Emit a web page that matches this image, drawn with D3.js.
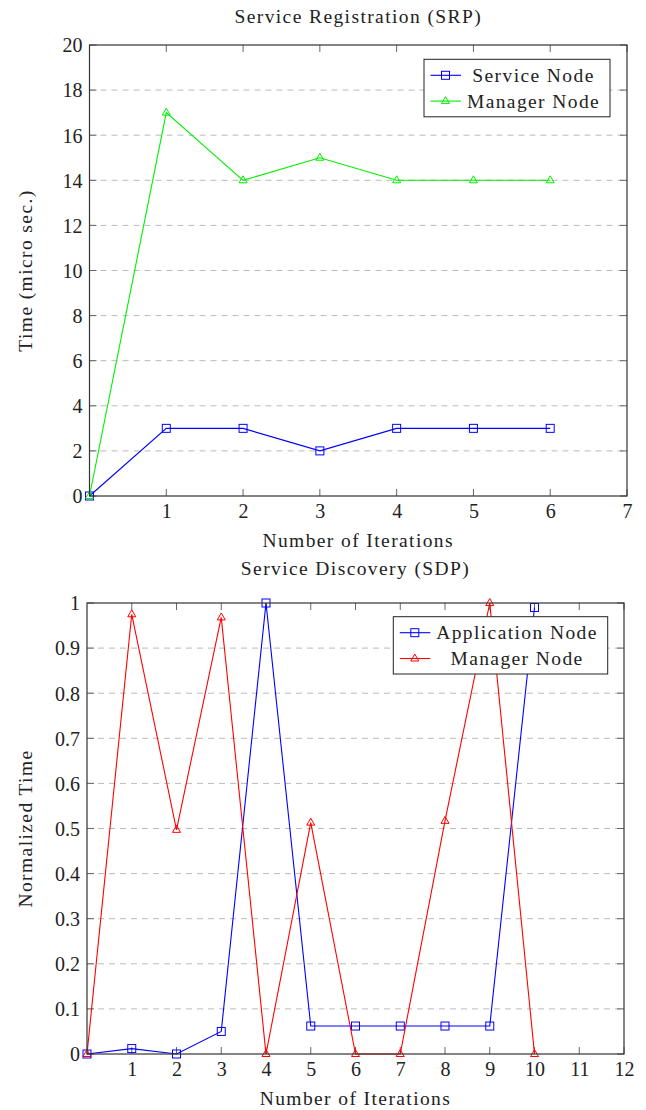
<!DOCTYPE html>
<html>
  <head>
    <script src="https://d3js.org/d3.v7.min.js" charset="utf-8"></script>
    <meta charset="UTF-8">
    <title>service registration / discovery</title>
    <style>
      body { margin: 0; background: #fff; }
      text { font-family: "Liberation Serif", "DejaVu Serif", serif; fill: #222; }
      .words { font-size: 19.5px; letter-spacing: 1.4px; }
      .grid line { stroke: #bbb; stroke-dasharray: 6,5; stroke-width: 1; }
      .frame { fill: none; stroke: #333; stroke-width: 1.2; }
      .tick-mark { stroke: #666; stroke-width: 1; }
    </style>
  </head>
  <body>
    <svg class="chart"></svg>
    <script type="text/javascript">

      // --- data ---
      var srpIterations = [0, 1, 2, 3, 4, 5, 6];
      var srpServiceNode = [0, 3, 3, 2, 3, 3, 3];
      var srpManagerNode = [0, 17, 14, 15, 14, 14, 14];
      var srpXTicks = [1, 2, 3, 4, 5, 6, 7];
      var srpYTicks = [0, 2, 4, 6, 8, 10, 12, 14, 16, 18, 20];

      var sdpIterations = [0, 1, 2, 3, 4, 5, 6, 7, 8, 9, 10];
      var sdpApplicationNode = [0, 0.012, 0, 0.05, 1, 0.062, 0.062, 0.062, 0.062, 0.062, 0.99];
      var sdpManagerNode = [0, 0.975, 0.497, 0.968, 0, 0.513, 0, 0, 0.517, 1, 0];
      var sdpXTicks = [1, 2, 3, 4, 5, 6, 7, 8, 9, 10, 11, 12];
      var sdpYTicks = [0, 0.1, 0.2, 0.3, 0.4, 0.5, 0.6, 0.7, 0.8, 0.9, 1];

      var width = 646,
          height = 1110,
          tickLen = 7;

      var chart = d3.select(".chart")
          .attr("width", width)
          .attr("height", height);

      function squareMark(g, x, y, color) {
        g.append("rect")
          .attr("x", x - 4).attr("y", y - 4)
          .attr("width", 8).attr("height", 8)
          .attr("fill", "none").attr("stroke", color).attr("stroke-width", 1);
      }

      function triangleMark(g, x, y, color) {
        g.append("path")
          .attr("d", "M" + x + "," + (y - 4.5) + "L" + (x + 4) + "," + (y + 2.5) + "L" + (x - 4) + "," + (y + 2.5) + "Z")
          .attr("fill", "none").attr("stroke", color).attr("stroke-width", 1);
      }

      function drawPanel(p) {
        var x = d3.scaleLinear().domain(p.xDomain).range([p.left, p.right]);
        var y = d3.scaleLinear().domain(p.yDomain).range([p.bottom, p.top]);
        var g = chart.append("g");

        // dashed horizontal grid
        g.append("g").attr("class", "grid")
          .selectAll("line")
          .data(p.yTicks.filter(function(t) { return t !== p.yDomain[0] && t !== p.yDomain[1]; }))
          .enter().append("line")
          .attr("x1", p.left).attr("x2", p.right)
          .attr("y1", function(d) { return y(d); })
          .attr("y2", function(d) { return y(d); });

        // inward ticks on all four sides
        var ticks = g.append("g");
        p.xTicks.forEach(function(t) {
          ticks.append("line").attr("class", "tick-mark")
            .attr("x1", x(t)).attr("x2", x(t)).attr("y1", p.bottom).attr("y2", p.bottom - tickLen);
          ticks.append("line").attr("class", "tick-mark")
            .attr("x1", x(t)).attr("x2", x(t)).attr("y1", p.top).attr("y2", p.top + tickLen);
        });
        p.yTicks.forEach(function(t) {
          ticks.append("line").attr("class", "tick-mark")
            .attr("x1", p.left).attr("x2", p.left + tickLen).attr("y1", y(t)).attr("y2", y(t));
          ticks.append("line").attr("class", "tick-mark")
            .attr("x1", p.right).attr("x2", p.right - tickLen).attr("y1", y(t)).attr("y2", y(t));
        });

        // tick labels via d3 axes with hidden lines
        var xAxis = g.append("g")
          .attr("transform", "translate(0," + p.bottom + ")")
          .call(d3.axisBottom(x).tickValues(p.xTicks).tickSize(0).tickPadding(8).tickFormat(d3.format("d")));
        var yAxis = g.append("g")
          .attr("transform", "translate(" + p.left + ",0)")
          .call(d3.axisLeft(y).tickValues(p.yTicks).tickSize(0).tickPadding(7).tickFormat(p.yFormat));
        [xAxis, yAxis].forEach(function(a) {
          a.select(".domain").remove();
          a.selectAll("text").style("font-family", "Liberation Serif, serif").style("font-size", "20px").attr("fill", "#222");
        });
        yAxis.selectAll("text").attr("dy", "0.34em");

        // series
        p.series.forEach(function(s) {
          var line = d3.line()
            .x(function(d, i) { return x(p.xs[i]); })
            .y(function(d) { return y(d); });
          g.append("path")
            .datum(s.values)
            .attr("d", line)
            .attr("fill", "none")
            .attr("stroke", s.color)
            .attr("stroke-width", 1.1);
          var marks = g.append("g");
          s.values.forEach(function(v, i) { s.mark(marks, x(p.xs[i]), y(v), s.color); });
        });

        g.append("rect").attr("class", "frame")
          .attr("x", p.left).attr("y", p.top)
          .attr("width", p.right - p.left).attr("height", p.bottom - p.top);

        // titles
        g.append("text").attr("class", "words")
          .attr("x", (p.left + p.right) / 2).attr("y", p.titleY)
          .attr("text-anchor", "middle")
          .text(p.title);
        g.append("text").attr("class", "words")
          .attr("x", (p.left + p.right) / 2).attr("y", p.bottom + 51)
          .attr("text-anchor", "middle")
          .text(p.xLabel);
        g.append("text").attr("class", "words")
          .attr("transform", "translate(" + p.yLabelX + "," + ((p.top + p.bottom) / 2) + ") rotate(-90)")
          .attr("text-anchor", "middle")
          .text(p.yLabel);

        // legend
        var lg = g.append("g");
        var L = p.legend;
        lg.append("rect")
          .attr("x", L.x).attr("y", L.y)
          .attr("width", L.w).attr("height", L.h)
          .attr("fill", "#fff").attr("stroke", "#222").attr("stroke-width", 1);
        p.series.forEach(function(s, i) {
          var ly = L.y + 16 + i * 25.8;
          lg.append("line")
            .attr("x1", L.x + 6.5).attr("x2", L.x + 37)
            .attr("y1", ly).attr("y2", ly)
            .attr("stroke", s.color).attr("stroke-width", 1.1);
          s.mark(lg, L.x + 21.5, ly, s.color);
          lg.append("text").attr("class", "words")
            .attr("x", L.x + 37 + (L.w - 37) / 2 - 2).attr("y", ly + 6.5)
            .attr("text-anchor", "middle")
            .text(s.name);
        });
      }

      drawPanel({
        title: "Service Registration (SRP)",
        titleY: 22.5,
        xLabel: "Number of Iterations",
        yLabel: "Time (micro sec.)",
        yLabelX: 32,
        left: 89.5, right: 627, top: 45, bottom: 496,
        xDomain: [0, 7], yDomain: [0, 20],
        xTicks: srpXTicks, yTicks: srpYTicks,
        yFormat: d3.format("d"),
        xs: srpIterations,
        series: [
          {name: "Service Node", values: srpServiceNode, color: "#0000ff", mark: squareMark},
          {name: "Manager Node", values: srpManagerNode, color: "#00ee00", mark: triangleMark}
        ],
        legend: {x: 424, y: 59.3, w: 186, h: 57.5}
      });

      drawPanel({
        title: "Service Discovery (SDP)",
        titleY: 574.5,
        xLabel: "Number of Iterations",
        yLabel: "Normalized Time",
        yLabelX: 32,
        left: 87, right: 624, top: 603, bottom: 1054,
        xDomain: [0, 12], yDomain: [0, 1],
        xTicks: sdpXTicks, yTicks: sdpYTicks,
        yFormat: function(d) { return d === 0 || d === 1 ? d3.format("d")(d) : d3.format(".1f")(d); },
        xs: sdpIterations,
        series: [
          {name: "Application Node", values: sdpApplicationNode, color: "#0000ff", mark: squareMark},
          {name: "Manager Node", values: sdpManagerNode, color: "#ff0000", mark: triangleMark}
        ],
        legend: {x: 393.3, y: 616.7, w: 214.4, h: 57.3}
      });

    </script>
  </body>
</html>
